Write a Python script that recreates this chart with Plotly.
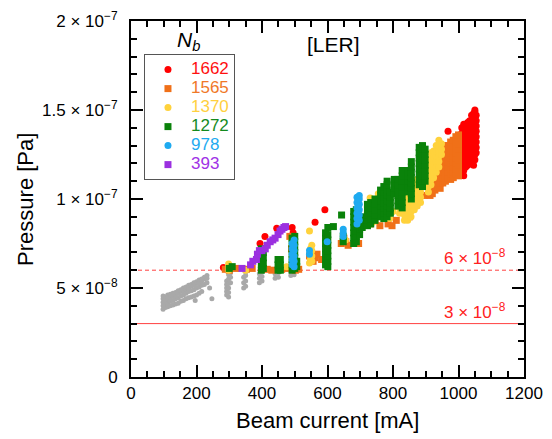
import plotly.graph_objects as go

# Pressure vs. LER beam current, grouped by number of bunches N_b.
# Each entry: (beam current [mA], [pressures in units of 1e-8 Pa])
bunches = ["1662", "1565", "1370", "1272", "978", "393"]
colors = ["#FF0000", "#F07018", "#FFD23C", "#0A820A", "#1EAAF0", "#9B30E0"]
text_colors = ["#FF1010", "#F07828", "#FFD040", "#148A1E", "#1EAAF0", "#A032E6"]
symbols = ["circle", "square", "circle", "square", "circle", "square"]

low_current = [
    (98, [3.8, 4.0, 4.2, 4.4, 4.55]), (105, [3.9, 4.1, 4.3, 4.5]),
    (112, [3.95, 4.15, 4.4, 4.6]), (120, [4.0, 4.25, 4.45, 4.65]),
    (128, [4.05, 4.3, 4.55, 4.7]), (136, [4.1, 4.4, 4.6, 4.75]),
    (144, [4.15, 4.45, 4.7, 4.85]), (152, [4.25, 4.55, 4.8, 4.9]),
    (160, [4.3, 4.6, 4.85, 5.0]), (168, [4.4, 4.7, 4.95, 5.05]),
    (176, [4.45, 4.8, 5.0, 5.15]), (184, [4.5, 4.85, 5.1, 5.2]),
    (192, [4.55, 4.9, 5.15, 5.3]), (200, [4.6, 5.0, 5.25, 5.35]),
    (208, [4.7, 5.05, 5.3, 5.45]), (216, [4.8, 5.15, 5.4, 5.5]),
    (224, [5.2, 5.5, 5.6]), (232, [5.3, 5.55, 5.7]),
    (196, [4.3]), (247, [4.4]), (240, [5.0]),
    (292, [4.6, 4.8, 5.0, 5.2, 5.4]), (298, [4.5, 4.75, 5.0, 5.25, 5.5, 5.75]),
    (304, [5.3, 5.6, 5.85]), (344, [5.0, 5.3, 5.6]), (350, [5.1, 5.4, 5.7, 5.9]),
    (392, [5.3, 5.55, 5.8]), (400, [5.4, 5.65, 5.9]), (440, [5.55, 5.8]),
    (450, [5.6, 5.85]), (488, [5.7, 5.9]), (498, [5.75, 5.95]),
]

nb_1662 = [
    (282, [6.15]), (394, [7.5]), (400, [7.2]), (409, [7.9]), (445, [8.35]),
    (492, [8.4]), (495, [8.1, 7.8]), (562, [8.7]), (592, [9.4]), (968, [13.8]),
    (1005, [12.0, 12.4, 12.8, 13.2, 13.6]),
    (1010, [11.6, 11.9, 12.2, 12.5, 12.8, 13.1, 13.4, 13.7, 14.0]),
    (1016, [11.3, 11.6, 11.9, 12.2, 12.5, 12.8, 13.1, 13.4, 13.7, 14.0, 14.2]),
    (1022, [11.8, 12.1, 12.4, 12.7, 13.0, 13.3, 13.6, 13.9]),
    (1028, [11.9, 12.2, 12.5, 12.8, 13.1, 13.4, 13.7, 14.0, 14.3]),
    (1034, [12.0, 12.3, 12.6, 12.9, 13.2, 13.5, 13.8, 14.1, 14.4]),
    (1040, [12.3, 12.6, 12.9, 13.2, 13.5, 13.8, 14.1, 14.4, 14.7]),
    (1046, [11.9, 12.4, 12.7, 13.0, 13.3, 13.6, 13.9, 14.2, 14.5, 14.8]),
    (1050, [12.2, 12.5, 12.8, 13.1, 13.4, 13.7, 14.0, 14.3, 14.6, 14.9, 15.0]),
    (1054, [12.6, 12.9, 13.2, 13.5, 13.8, 14.1, 14.4, 14.7]),
]

nb_1565 = [
    (288, [6.05]), (300, [6.0]), (320, [6.1]), (352, [6.05]), (370, [6.1]),
    (416, [6.05]), (430, [6.0]), (460, [6.05]), (480, [6.1]),
    (485, [7.9]), (490, [7.2]), (495, [6.5]), (502, [6.0, 6.2]), (512, [6.05]),
    (545, [6.8]), (556, [6.5]), (562, [6.7]), (568, [6.9]), (582, [6.6]), (600, [6.4]),
    (642, [7.5]), (650, [7.8]), (656, [7.6]), (663, [7.4]), (685, [7.6]), (695, [7.5]),
    (730, [8.6]), (745, [8.8]), (760, [8.5]), (785, [8.6]), (797, [8.5]), (810, [8.8]),
    (821, [9.7]), (850, [9.0]), (870, [10.0]), (880, [10.3]), (889, [10.7]), (895, [10.2]),
    (913, [10.2, 10.5, 10.8, 11.1]),
    (920, [10.3, 10.6, 10.9, 11.2, 11.5]),
    (928, [10.5, 10.8, 11.1, 11.4, 11.7, 12.0]),
    (936, [10.7, 11.0, 11.3, 11.6, 11.9, 12.2]),
    (944, [10.6, 10.9, 11.2, 11.5, 11.8, 12.1, 12.4]),
    (952, [10.9, 11.2, 11.5, 11.8, 12.1, 12.4, 12.7]),
    (960, [11.0, 11.3, 11.6, 11.9, 12.2, 12.5, 12.8, 13.0]),
    (968, [11.2, 11.5, 11.8, 12.1, 12.4, 12.7, 13.0]),
    (976, [11.1, 11.4, 11.7, 12.0, 12.3, 12.6, 12.9, 13.2]),
    (984, [11.2, 11.5, 11.8, 12.1, 12.4, 12.7, 13.0, 13.3]),
    (992, [11.4, 11.7, 12.0, 12.3, 12.6, 12.9, 13.2, 13.5]),
    (1000, [11.3, 11.6, 11.9, 12.2, 12.5, 12.8, 13.1, 13.4, 13.6]),
]

nb_1370 = [
    (298, [6.0, 6.2, 6.35]), (350, [6.0]), (400, [6.1]), (475, [6.2]),
    (545, [6.4, 8.2]), (548, [6.6, 6.9, 7.2]), (552, [6.5, 6.8, 7.1, 7.4]),
    (594, [6.3]), (655, [7.7]),
    (730, [10.05]), (738, [8.7]), (755, [10.3]), (760, [9.0]),
    (790, [8.9, 9.2]), (800, [9.3]),
    (820, [9.2, 9.5, 9.8, 10.1, 10.4]),
    (835, [8.8, 9.1, 9.4, 9.7, 10.0, 10.3]),
    (845, [8.8, 9.1, 9.4, 9.7, 10.0, 10.3, 10.6]),
    (855, [9.0, 9.3, 9.6, 9.9, 10.2, 10.5]),
    (865, [9.4, 9.7, 10.0, 10.3, 10.6, 10.9]),
    (874, [9.6, 9.9, 10.2, 10.5, 10.8, 11.1]),
    (884, [9.8, 10.1, 10.4, 10.7]),
    (908, [10.4, 10.7, 11.0, 11.3, 11.6, 11.9, 12.2]),
    (916, [10.8, 11.1, 11.4, 11.7, 12.0, 12.3, 12.6]),
    (924, [11.2, 11.5, 11.8, 12.1, 12.4, 12.7]),
    (932, [11.5, 11.8, 12.1, 12.4, 12.7, 13.0]),
    (940, [11.8, 12.1, 12.4, 12.7, 13.0, 13.3]),
    (948, [12.5, 12.8, 13.1]),
]

nb_1272 = [
    (300, [6.1]), (309, [6.2]),
    (398, [6.0, 6.3, 6.6, 6.9, 7.2]), (404, [6.1, 6.4, 6.7, 7.0]),
    (449, [6.0, 6.3, 6.6]), (456, [6.0, 6.3, 6.6]),
    (492, [6.0, 6.3, 6.6, 6.9, 7.2, 7.5, 7.8]),
    (500, [6.1, 6.4, 6.7, 7.0, 7.3, 7.6, 7.9]), (506, [6.2, 6.5]),
    (594, [6.3, 6.6, 6.9, 7.2, 7.5, 7.8, 8.1]),
    (601, [6.2, 6.5, 6.8, 7.1, 7.4, 7.7, 8.0, 8.4]),
    (618, [8.45]), (643, [9.1]), (648, [7.6, 7.9]),
    (680, [7.5, 7.8, 8.1, 8.4, 8.7, 9.0, 9.3]),
    (688, [7.6, 7.9, 8.2, 8.5, 8.8, 9.1, 9.4]),
    (698, [8.0, 8.3, 8.6, 8.9]), (706, [8.4, 8.7, 9.0]),
    (722, [8.5, 8.8, 9.1, 9.4, 9.7]), (732, [8.6, 8.9, 9.2, 9.5, 9.8]),
    (745, [8.8, 9.1, 9.4, 9.7, 10.0]),
    (762, [9.0, 9.3, 9.6, 9.9, 10.2, 10.5]),
    (772, [8.9, 9.2, 9.5, 9.8, 10.1, 10.4, 10.7]),
    (782, [9.0, 9.3, 9.6, 9.9, 10.2, 10.5, 10.8, 11.0]),
    (792, [9.2, 9.5, 9.8, 10.1, 10.4]),
    (804, [10.3, 10.6, 10.9, 11.1]),
    (815, [9.6, 9.9, 10.2, 10.5, 10.8, 11.1]),
    (828, [9.5, 9.8, 10.1, 10.4, 10.7, 11.0, 11.3, 11.6]),
    (846, [10.4, 10.7, 11.0, 11.3, 11.6]),
    (856, [10.0, 10.3, 10.6, 10.9, 11.2, 11.5, 11.8, 12.1]),
    (880, [10.8, 11.1, 11.4, 11.7, 12.0, 12.3, 12.6, 12.9]),
    (890, [10.7, 11.0, 11.3, 11.6, 11.9, 12.2, 12.5, 12.8, 13.0]),
    (898, [11.0, 11.3, 11.6, 11.9, 12.2, 12.5, 12.8]),
]

nb_978 = [
    (492, [6.3, 6.6, 6.9, 7.2, 7.5]),
    (498, [6.2, 6.5, 6.8, 7.1, 7.4, 7.7]),
    (545, [6.9, 7.1]), (599, [7.6]), (648, [7.9, 8.1, 8.3]),
    (690, [8.6, 8.9, 9.2, 9.5, 9.8, 10.1]),
    (697, [8.8, 9.1, 9.4, 9.7, 10.0, 10.2]),
]

nb_393 = [
    (339, [6.1]), (365, [6.3]), (372, [6.5]), (383, [6.6]), (386, [6.9]),
    (392, [7.1]), (400, [7.1]), (410, [7.2]), (416, [7.4]), (425, [7.6]),
    (433, [7.7]), (440, [7.8]), (449, [8.0]), (455, [8.2]), (461, [8.3]),
    (467, [8.4]), (472, [8.45]),
]

series = [nb_1662, nb_1565, nb_1370, nb_1272, nb_978, nb_393]

limit_lines = [6e-8, 3e-8]
limit_labels = ["6 × 10<sup>−8</sup>", "3 × 10<sup>−8</sup>"]
limit_dash = ["4px,3px", "solid"]

y_tickvals = [0, 5e-8, 1e-7, 1.5e-7, 2e-7]
y_ticktext = ["0", "5 × 10<sup>−8</sup>", "1 × 10<sup>−7</sup>",
              "1.5 × 10<sup>−7</sup>", "2 × 10<sup>−7</sup>"]

UNIT = 1e-8
FONT = "Liberation Sans, Arial, sans-serif"


def flatten(groups):
    xs, ys = [], []
    for cur, pressures in groups:
        for p in pressures:
            xs.append(cur)
            ys.append(p * UNIT)
    return xs, ys


fig = go.Figure()

gx, gy = flatten(low_current)
fig.add_trace(go.Scatter(
    x=gx, y=gy, mode="markers", showlegend=False, hoverinfo="skip",
    marker=dict(symbol="circle", size=5, color="#A9A9A9"),
))

for name, col, tcol, sym, grp in zip(bunches, colors, text_colors, symbols, series):
    xs, ys = flatten(grp)
    fig.add_trace(go.Scatter(
        x=xs, y=ys, mode="markers",
        name=f'<span style="color:{tcol};font-size:17px">{name}</span>',
        marker=dict(symbol=sym, size=7, color=col),
    ))

for val, lab, dash in zip(limit_lines, limit_labels, limit_dash):
    fig.add_hline(y=val, layer="below", line=dict(color="#FF4040", width=1, dash=dash))
    fig.add_annotation(
        x=1050, y=val, xref="x", yref="y", text=lab, showarrow=False,
        xanchor="center", yanchor="bottom", yshift=0,
        font=dict(family=FONT, size=17, color="#FF2020"),
    )

fig.add_annotation(
    x=0.146, y=0.945, xref="paper", yref="paper", showarrow=False,
    xanchor="center", yanchor="middle",
    text="<i>N</i><sub><i>b</i></sub>", font=dict(family=FONT, size=21, color="black"),
)
fig.add_annotation(
    x=0.514, y=0.933, xref="paper", yref="paper", showarrow=False,
    xanchor="center", yanchor="middle",
    text="[LER]", font=dict(family=FONT, size=21, color="black"),
)
# Axis titles placed explicitly in paper space
fig.add_annotation(
    x=0.5, y=-0.123, xref="paper", yref="paper", showarrow=False,
    xanchor="center", yanchor="middle", text="Beam current [mA]",
    font=dict(family=FONT, size=22, color="black"),
)
fig.add_annotation(
    x=-0.27, y=0.5, xref="paper", yref="paper", showarrow=False,
    xanchor="center", yanchor="middle", textangle=-90, text="Pressure [Pa]",
    font=dict(family=FONT, size=22, color="black"),
)

axis_common = dict(
    showline=True, linecolor="black", linewidth=2, mirror="ticks",
    ticks="inside", ticklen=12, tickwidth=1.5, tickcolor="black",
    showgrid=False, zeroline=False, automargin=False,
    tickfont=dict(family=FONT, size=17, color="black"),
)

fig.update_xaxes(
    range=[0, 1200], tickmode="linear", tick0=0, dtick=200,
    minor=dict(tickmode="linear", tick0=0, dtick=50, ticks="inside",
               ticklen=6, tickwidth=1.5, tickcolor="black", showgrid=False),
    ticklabelstandoff=0,
    **axis_common,
)
fig.update_yaxes(
    range=[0, 2e-7], tickmode="array", tickvals=y_tickvals, ticktext=y_ticktext,
    minor=dict(tickmode="linear", tick0=0, dtick=1e-8, ticks="inside",
               ticklen=6, tickwidth=1.5, tickcolor="black", showgrid=False),
    ticklabelstandoff=8,
    **axis_common,
)

fig.update_layout(
    width=552, height=439,
    margin=dict(l=131, r=28, t=21, b=62, autoexpand=False),
    paper_bgcolor="white", plot_bgcolor="white",
    font=dict(family=FONT, color="black"),
    legend=dict(
        x=0.033, y=0.907, xanchor="left", yanchor="top",
        bgcolor="white", bordercolor="#555555", borderwidth=1,
        font=dict(family=FONT, size=12), itemclick=False, itemwidth=36,
    ),
)

fig.write_html("out.html")
